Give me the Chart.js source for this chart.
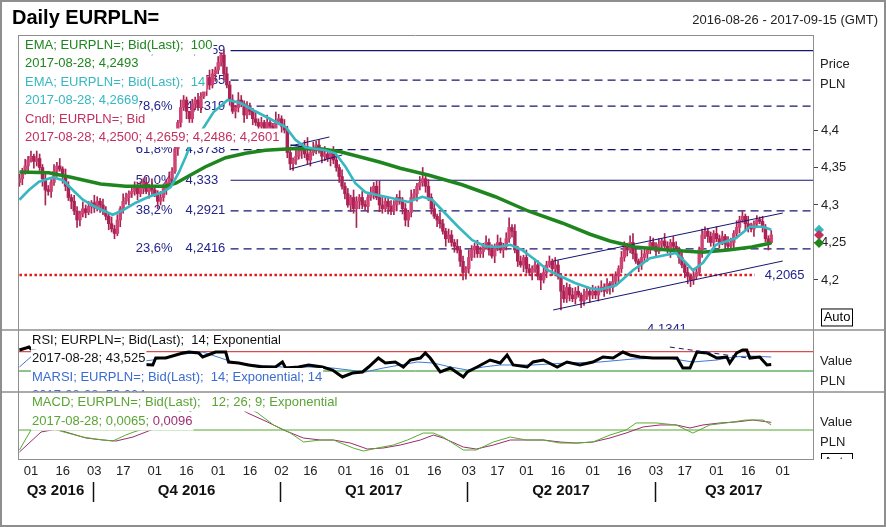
<!DOCTYPE html>
<html>
<head>
<meta charset="utf-8">
<title>Daily EURPLN=</title>
<style>
  html, body { margin: 0; padding: 0; background: #fff; }
  canvas { display: block; }
</style>
<script src="https://cdn.jsdelivr.net/npm/chart.js@4.4.1/dist/chart.umd.min.js"></script>
</head>
<body>
<canvas id="chart" width="886" height="527"></canvas>
<script>
// x = trading day number, day 0 = 2016-08-26, last candle (261) = 2017-08-28
const X_MIN = -0.5, X_MAX = 275.5;
const tickIdx = [4, 15, 26, 36, 47, 58, 69, 80, 91, 101, 113, 124, 133, 144, 156, 166, 176, 187, 199, 210, 221, 231, 242, 253, 265];
const tickLabels = ['01','16','03','17','01','16','01','16','02','16','01','16','01','16','03','17','01','16','01','16','03','17','01','16','01'];
const quarterBreaks = [25.5, 90.5, 155.5, 220.5];
const quarterNames = ['Q3 2016', 'Q4 2016', 'Q1 2017', 'Q2 2017', 'Q3 2017'];

// daily candles, EURPLN= bid
const opens = [
  4.330,4.335,4.345,4.352,4.360,4.365,4.358,4.362,4.350,4.335,
  4.320,4.318,4.330,4.345,4.352,4.348,4.338,4.325,4.310,4.305,
  4.292,4.280,4.288,4.295,4.290,4.298,4.303,4.296,4.305,4.300,
  4.292,4.285,4.275,4.268,4.262,4.280,4.295,4.305,4.310,4.315,
  4.318,4.325,4.315,4.322,4.330,4.318,4.325,4.320,4.315,4.305,
  4.310,4.322,4.330,4.335,4.345,4.375,4.410,4.430,4.440,4.425,
  4.415,4.435,4.440,4.430,4.445,4.455,4.470,4.460,4.475,4.480,
  4.490,4.500,4.475,4.460,4.440,4.425,4.430,4.440,4.435,4.420,
  4.430,4.425,4.415,4.410,4.405,4.410,4.400,4.410,4.405,4.400,
  4.412,4.415,4.405,4.400,4.370,4.355,4.360,4.365,4.372,4.378,
  4.368,4.360,4.370,4.375,4.380,4.372,4.365,4.368,4.362,4.370,
  4.360,4.350,4.338,4.325,4.315,4.300,4.310,4.295,4.305,4.310,
  4.300,4.298,4.310,4.315,4.325,4.310,4.300,4.295,4.305,4.298,
  4.292,4.300,4.310,4.305,4.295,4.280,4.290,4.310,4.315,4.325,
  4.330,4.335,4.325,4.310,4.295,4.285,4.280,4.275,4.265,4.255,
  4.260,4.250,4.245,4.240,4.225,4.210,4.215,4.230,4.240,4.245,
  4.235,4.238,4.245,4.250,4.240,4.232,4.245,4.250,4.240,4.245,
  4.255,4.270,4.265,4.240,4.225,4.220,4.230,4.215,4.210,4.215,
  4.220,4.205,4.200,4.210,4.220,4.225,4.215,4.220,4.205,4.185,
  4.175,4.190,4.180,4.175,4.185,4.180,4.172,4.178,4.185,4.180,
  4.185,4.180,4.188,4.190,4.185,4.195,4.190,4.198,4.205,4.215,
  4.230,4.245,4.240,4.250,4.235,4.225,4.220,4.230,4.235,4.240,
  4.250,4.245,4.238,4.248,4.252,4.245,4.240,4.250,4.245,4.240,
  4.230,4.220,4.210,4.205,4.200,4.205,4.210,4.240,4.260,4.265,
  4.258,4.250,4.262,4.255,4.250,4.258,4.248,4.245,4.250,4.262,
  4.270,4.280,4.285,4.275,4.270,4.268,4.275,4.280,4.278,4.270,
  4.255,4.2500
];
const highs = [
  4.341,4.349,4.361,4.365,4.372,4.368,4.372,4.368,4.354,4.343,
  4.326,4.334,4.354,4.357,4.362,4.351,4.348,4.331,4.314,4.313,
  4.298,4.292,4.304,4.300,4.305,4.306,4.313,4.311,4.309,4.308,
  4.298,4.289,4.284,4.273,4.287,4.298,4.315,4.316,4.319,4.326,
  4.331,4.329,4.331,4.335,4.337,4.328,4.335,4.326,4.319,4.318,
  4.328,4.334,4.344,4.350,4.382,4.413,4.440,4.446,4.444,4.423,
  4.441,4.444,4.449,4.450,4.462,4.473,4.480,4.481,4.484,4.498,
  4.503,4.5059,4.484,4.465,4.447,4.433,4.450,4.446,4.439,4.438,
  4.436,4.429,4.424,4.415,4.417,4.413,4.420,4.416,4.409,4.424,
  4.421,4.419,4.414,4.405,4.377,4.363,4.375,4.378,4.382,4.386,
  4.390,4.374,4.384,4.385,4.387,4.375,4.378,4.374,4.374,4.378,
  4.366,4.354,4.347,4.330,4.322,4.313,4.320,4.311,4.314,4.318,
  4.306,4.314,4.324,4.330,4.332,4.332,4.310,4.311,4.309,4.306,
  4.306,4.314,4.319,4.310,4.302,4.293,4.320,4.321,4.329,4.338,
  4.350,4.339,4.334,4.315,4.302,4.288,4.290,4.281,4.269,4.268,
  4.266,4.254,4.254,4.245,4.232,4.218,4.240,4.246,4.249,4.253,
  4.244,4.249,4.259,4.255,4.247,4.248,4.260,4.256,4.249,4.263,
  4.283,4.274,4.274,4.245,4.232,4.233,4.240,4.221,4.219,4.228,
  4.226,4.209,4.219,4.225,4.232,4.228,4.230,4.226,4.209,4.193,
  4.196,4.194,4.189,4.190,4.192,4.183,4.188,4.191,4.189,4.193,
  4.191,4.192,4.199,4.195,4.202,4.198,4.208,4.211,4.219,4.238,
  4.251,4.249,4.259,4.262,4.242,4.228,4.240,4.241,4.244,4.258,
  4.256,4.250,4.255,4.255,4.262,4.251,4.254,4.258,4.251,4.244,
  4.239,4.225,4.217,4.208,4.215,4.216,4.244,4.268,4.271,4.269,
  4.264,4.266,4.271,4.260,4.265,4.261,4.258,4.256,4.266,4.279,
  4.285,4.292,4.288,4.285,4.276,4.279,4.286,4.284,4.285,4.274,
  4.259,4.2659
];
const lows = [
  4.325,4.327,4.341,4.345,4.357,4.349,4.352,4.346,4.325,4.300,
  4.313,4.310,4.326,4.338,4.345,4.329,4.319,4.306,4.295,4.287,
  4.270,4.272,4.284,4.283,4.287,4.289,4.290,4.292,4.290,4.287,
  4.280,4.267,4.264,4.255,4.259,4.271,4.289,4.301,4.300,4.310,
  4.313,4.307,4.311,4.315,4.315,4.309,4.314,4.311,4.295,4.300,
  4.305,4.314,4.326,4.328,4.342,4.366,4.404,4.426,4.415,4.410,
  4.410,4.427,4.426,4.423,4.442,4.446,4.454,4.456,4.465,4.475,
  4.485,4.467,4.456,4.433,4.422,4.416,4.424,4.431,4.410,4.415,
  4.420,4.407,4.406,4.398,4.402,4.391,4.394,4.401,4.390,4.395,
  4.407,4.397,4.396,4.363,4.347,4.346,4.354,4.361,4.362,4.363,
  4.355,4.352,4.366,4.368,4.369,4.356,4.359,4.358,4.352,4.355,
  4.345,4.330,4.321,4.308,4.297,4.291,4.289,4.270,4.295,4.295,
  4.293,4.290,4.306,4.308,4.307,4.291,4.289,4.291,4.288,4.287,
  4.287,4.292,4.301,4.288,4.272,4.271,4.284,4.306,4.305,4.320,
  4.325,4.317,4.306,4.288,4.282,4.271,4.269,4.261,4.245,4.250,
  4.245,4.237,4.236,4.218,4.200,4.201,4.209,4.226,4.230,4.230,
  4.230,4.230,4.241,4.233,4.229,4.223,4.239,4.236,4.230,4.240,
  4.250,4.257,4.236,4.218,4.217,4.211,4.209,4.206,4.200,4.210,
  4.200,4.187,4.196,4.203,4.217,4.206,4.209,4.201,4.160,4.170,
  4.170,4.172,4.171,4.168,4.177,4.163,4.166,4.174,4.170,4.175,
  4.175,4.172,4.184,4.178,4.182,4.181,4.184,4.194,4.195,4.210,
  4.225,4.232,4.236,4.228,4.222,4.211,4.214,4.226,4.225,4.235,
  4.240,4.231,4.235,4.239,4.239,4.236,4.230,4.240,4.235,4.222,
  4.216,4.203,4.195,4.191,4.194,4.201,4.206,4.230,4.255,4.250,
  4.245,4.242,4.251,4.243,4.247,4.239,4.239,4.241,4.240,4.258,
  4.263,4.277,4.266,4.264,4.264,4.258,4.270,4.275,4.264,4.251,
  4.240,4.2486
];
const closes = [
  4.335,4.345,4.352,4.360,4.365,4.358,4.362,4.350,4.335,4.320,
  4.318,4.330,4.345,4.352,4.348,4.338,4.325,4.310,4.305,4.292,
  4.280,4.288,4.295,4.290,4.298,4.303,4.296,4.305,4.300,4.292,
  4.285,4.275,4.268,4.262,4.280,4.295,4.305,4.310,4.315,4.318,
  4.325,4.315,4.322,4.330,4.318,4.325,4.320,4.315,4.305,4.310,
  4.322,4.330,4.335,4.345,4.375,4.410,4.430,4.440,4.425,4.415,
  4.435,4.440,4.430,4.445,4.455,4.470,4.460,4.475,4.480,4.490,
  4.500,4.475,4.460,4.440,4.425,4.430,4.440,4.435,4.420,4.430,
  4.425,4.415,4.410,4.405,4.410,4.400,4.410,4.405,4.400,4.412,
  4.415,4.405,4.400,4.370,4.355,4.360,4.365,4.372,4.378,4.368,
  4.360,4.370,4.375,4.380,4.372,4.365,4.368,4.362,4.370,4.360,
  4.350,4.338,4.325,4.315,4.300,4.310,4.295,4.305,4.310,4.300,
  4.298,4.310,4.315,4.325,4.310,4.300,4.295,4.305,4.298,4.292,
  4.300,4.310,4.305,4.295,4.280,4.290,4.310,4.315,4.325,4.330,
  4.335,4.325,4.310,4.295,4.285,4.280,4.275,4.265,4.255,4.260,
  4.250,4.245,4.240,4.225,4.210,4.215,4.230,4.240,4.245,4.235,
  4.238,4.245,4.250,4.240,4.232,4.245,4.250,4.240,4.245,4.255,
  4.270,4.265,4.240,4.225,4.220,4.230,4.215,4.210,4.215,4.220,
  4.205,4.200,4.210,4.220,4.225,4.215,4.220,4.205,4.185,4.175,
  4.190,4.180,4.175,4.185,4.180,4.172,4.178,4.185,4.180,4.185,
  4.180,4.188,4.190,4.185,4.195,4.190,4.198,4.205,4.215,4.230,
  4.245,4.240,4.250,4.235,4.225,4.220,4.230,4.235,4.240,4.250,
  4.245,4.238,4.248,4.252,4.245,4.240,4.250,4.245,4.240,4.230,
  4.220,4.210,4.205,4.200,4.205,4.210,4.240,4.260,4.265,4.258,
  4.250,4.262,4.255,4.250,4.258,4.248,4.245,4.250,4.262,4.270,
  4.280,4.285,4.275,4.270,4.268,4.275,4.280,4.278,4.270,4.255,
  4.250,4.2601
];

// moving averages: [day, value]
const ema100 = [[0,4.344],[10.2,4.343],[17.9,4.337],[28.2,4.328],[36.9,4.325],[50.8,4.325],[54.3,4.329],[59.4,4.340],[64.6,4.351],[71.6,4.363],[78.5,4.369],[85.4,4.373],[94.1,4.375],[104.5,4.375],[111.4,4.371],[118.4,4.364],[125.3,4.357],[132.2,4.349],[141.9,4.340],[153.7,4.327],[165.2,4.311],[176.6,4.292],[188.4,4.276],[198.1,4.261],[205,4.252],[213.7,4.244],[225.3,4.240],[237,4.237],[246,4.240],[254.3,4.244],[261,4.2493]];
const ema14 = [[0,4.307],[3.3,4.320],[6.8,4.331],[11.6,4.337],[15.1,4.333],[18.5,4.320],[22,4.307],[26.5,4.297],[32.4,4.287],[35.9,4.293],[40.4,4.303],[44.9,4.311],[49.7,4.317],[52.5,4.324],[55.3,4.343],[57.7,4.364],[60.1,4.387],[63.6,4.401],[67.4,4.424],[72.3,4.440],[76.8,4.436],[81.9,4.425],[87.9,4.413],[92.4,4.404],[95.8,4.387],[99.3,4.377],[106.2,4.373],[109.7,4.369],[113.2,4.351],[116.6,4.329],[120.1,4.317],[124.6,4.313],[129.5,4.309],[135,4.304],[139.9,4.311],[143.3,4.307],[147.8,4.289],[152.3,4.271],[157.2,4.253],[161.7,4.245],[166.2,4.244],[170.4,4.247],[174.5,4.240],[179,4.227],[183.5,4.213],[188.4,4.204],[192.9,4.196],[198.1,4.189],[201.6,4.187],[207.1,4.193],[213,4.213],[218.9,4.229],[227.9,4.236],[231.4,4.223],[233.8,4.213],[237.3,4.223],[241.8,4.247],[248.8,4.256],[253.6,4.271],[258.1,4.271],[261,4.2669]];

// Fibonacci retracement
const fibStart = 73.3;
const fibPct = ['100,0%', '88,6%', '78,6%', '61,8%', '50,0%', '38,2%', '23,6%'];
const fibLevels = [4.5059, 4.4665, 4.4319, 4.3738, 4.333, 4.2921, 4.2416];
const fibSolid = [true, false, false, false, true, false, false];
const support = [0, 255.3, 4.2065];
const lowMark = [224.8, 4.1341];
// hand-drawn trend lines [x1, y1, x2, y2]
const trendLines = [[94.1,4.3787,107.6,4.3907],[94.1,4.3800,112.1,4.3707],[94.1,4.3480,112.1,4.3667],[185.3,4.2253,265,4.2893],[185.3,4.1600,265,4.2253]];

// RSI(14) and its moving average
const rsi = [[0,73.5],[2.3,77.7],[3.3,79.7],[4,75.6],[12,55],[25,35],[38,45],[46.3,42.5],[47.3,56.9],[50.8,56.9],[56.7,67.3],[58.8,69.4],[62.2,67.3],[63.6,59.0],[68.1,69.4],[71.6,69.4],[72.6,48.7],[76.1,46.6],[79.5,42.5],[84.4,38.3],[88.9,38.3],[91.3,48.7],[92.4,36.2],[96.9,38.3],[100.4,42.5],[105.2,38.3],[108.7,32.1],[112.1,17.6],[115.6,25.9],[119.1,28.0],[121.2,38.3],[124.6,56.9],[127,46.6],[130.5,48.7],[133.3,38.3],[135.7,52.8],[139.2,56.9],[140.9,67.3],[142.6,56.9],[146.1,28.0],[149.6,36.2],[154.1,17.6],[155.5,28.0],[158.9,38.3],[163.4,52.8],[166.9,46.6],[169.3,63.2],[171.4,42.5],[176.3,38.3],[178.3,48.7],[181.8,52.8],[186.7,38.3],[190.1,48.7],[194.6,42.5],[199.1,48.7],[202.6,59.0],[206.1,56.9],[209.5,69.4],[211.9,63.2],[215.4,59.0],[219.9,56.9],[224.8,56.9],[228.3,56.9],[230.3,36.2],[232.8,36.2],[235.2,69.4],[238.7,67.3],[242.1,56.9],[245.6,59.0],[246.6,46.6],[249,67.3],[251.1,73.5],[252.5,73.5],[253.6,56.9],[257,59.0],[259.5,42.5],[261,43.525]];
const marsi = [[0,38.3],[4.7,63.2],[20,55],[35,45],[46.3,52.8],[54.2,63.2],[63.6,69.4],[74,48.7],[81.9,42.5],[91.3,38.3],[100.4,38.3],[108.7,36.2],[120.1,28.0],[126.3,36.2],[132.2,42.5],[138.1,48.7],[143.7,46.6],[149.6,38.3],[155.5,32.1],[161,38.3],[166.9,42.5],[178.3,42.5],[190.1,46.6],[201.6,48.7],[213,54.9],[224.8,56.9],[233.8,48.7],[242.1,52.8],[247.7,59.0],[253.6,61.1],[261,59.034]];
const rsiBands = [70, 30];
const rsiTrend = [225.8, 79.7, 252.9, 56.9];

// MACD(12,26,9)
const macd = [[0,-0.025],[4,0],[9.2,0.004],[15.4,-0.0025],[22,-0.0088],[26.5,-0.0113],[32.4,-0.0138],[36.9,-0.0063],[39.7,-0.0025],[45.6,0.004],[54.2,0.02],[62.9,0.04],[71.6,0.042],[82.7,0.0213],[88.2,0.0063],[94.1,-0.0038],[98.6,-0.015],[104.5,-0.0125],[109,-0.0125],[115.9,-0.0225],[119.4,-0.0263],[124.3,-0.0225],[129.8,-0.0188],[134.7,-0.0125],[140.2,-0.0038],[143.7,-0.0038],[147.1,-0.0088],[154.1,-0.025],[158.6,-0.025],[164.5,-0.015],[170.4,-0.0088],[175.9,-0.0125],[181.8,-0.0125],[187.7,-0.0163],[193.3,-0.0163],[199.1,-0.015],[205,-0.0063],[210.6,0],[214.1,0.0088],[221,0.0088],[228,0.0063],[233.8,-0.0038],[239.7,0.0063],[245.3,0.0088],[252.2,0.0125],[258.1,0.0125],[261,0.0065]];
const signal = [[0,-0.0275],[7.5,-0.0025],[12.7,0.001],[16.1,-0.0025],[23.1,-0.01],[28.9,-0.0125],[33.5,-0.0138],[39.4,-0.0088],[43.9,-0.0025],[52.5,0.01],[62.9,0.03],[71.6,0.038],[79.2,0.0213],[86.1,0.01],[91.7,0],[98.6,-0.01],[104.5,-0.0125],[109,-0.0125],[114.9,-0.0163],[120.8,-0.0238],[126.3,-0.0225],[132.2,-0.0188],[139.2,-0.0125],[143.7,-0.0063],[147.1,-0.01],[154.1,-0.0213],[158.6,-0.0238],[164.5,-0.0188],[170.4,-0.0125],[181.8,-0.0125],[187.7,-0.015],[193.3,-0.0163],[199.1,-0.015],[205,-0.01],[210.6,-0.0038],[216.5,0.0038],[222.4,0.0063],[228,0.0063],[232.8,0.0025],[237.3,0.0063],[243.2,0.0088],[248.7,0.01],[254.6,0.0125],[261,0.0096]];

const priceTicks = [4.2, 4.25, 4.3, 4.35, 4.4];

const FONT = '"Liberation Sans", Arial, sans-serif';
const FRAME = '#8e8e8e';
const NAVY = '#161670';
const C_EMA100 = '#1f861f';
const C_EMA14 = '#36b8c0';
const C_CNDL = '#c2305e';

Chart.defaults.font.family = FONT;
Chart.defaults.font.size = 13;
Chart.defaults.color = '#222';

const pts = arr => arr.map(p => ({x: p[0], y: p[1]}));
const comma = v => String(v).replace('.', ',');
const fix = (v, n) => v.toFixed(n).replace('.', ',');
const last = arr => arr[arr.length - 1];
const lastDay = '2017-08-28';

function line(data, color, width, axis, order, dash) {
  return {type: 'line', data: data, borderColor: color, borderWidth: width, borderDash: dash || [],
    pointRadius: 0, tension: 0, fill: false, yAxisID: axis, order: order};
}

var datasets = [];
fibLevels.forEach(function (v, k) {
  datasets.push(line([{x: fibStart, y: v}, {x: X_MAX, y: v}], NAVY, 1.2, 'yPrice', 30, fibSolid[k] ? [] : [8, 5]));
});
datasets.push(line([{x: support[0], y: support[2]}, {x: support[1], y: support[2]}], '#e01818', 2.5, 'yPrice', 29, [2.5, 2.5]));

var n = closes.length;
var idx = closes.map(function (c, i) { return i; });
datasets.push({type: 'bar', data: idx.map(i => ({x: i, y: [lows[i], highs[i]]})), backgroundColor: '#a82452',
  barThickness: 1, grouped: false, yAxisID: 'yPrice', order: 20});
datasets.push({type: 'bar', data: idx.map(i => ({x: i, y: [opens[i], closes[i]]})),
  backgroundColor: idx.map(i => closes[i] >= opens[i] ? '#cf4474' : '#ad2255'),
  borderColor: '#a82250', borderWidth: 0, barThickness: 2.8, minBarLength: 2, grouped: false, yAxisID: 'yPrice', order: 19});

trendLines.forEach(function (t, k) {
  datasets.push(line([{x: t[0], y: t[1]}, {x: t[2], y: t[3]}], NAVY, k === 1 ? 1.6 : 1, 'yPrice', 6));
});
datasets.push(line(pts(ema100), C_EMA100, 3.5, 'yPrice', 4));
datasets.push(line(pts(ema14), C_EMA14, 2.6, 'yPrice', 3));

datasets.push(line([{x: X_MIN, y: rsiBands[0]}, {x: X_MAX, y: rsiBands[0]}], '#cc2222', 1, 'yRsi', 30));
datasets.push(line([{x: X_MIN, y: rsiBands[1]}, {x: X_MAX, y: rsiBands[1]}], '#1c8a1c', 1, 'yRsi', 30));
datasets.push(line(pts(marsi), '#3f7bd6', 1, 'yRsi', 5));
datasets.push(line(pts(rsi), '#000', 3, 'yRsi', 4));
datasets.push(line([{x: rsiTrend[0], y: rsiTrend[1]}, {x: rsiTrend[2], y: rsiTrend[3]}], NAVY, 1, 'yRsi', 3, [5, 4]));

datasets.push(line([{x: X_MIN, y: 0}, {x: X_MAX, y: 0}], '#55a82a', 1, 'yMacd', 30));
datasets.push(line(pts(signal), '#9b2c70', 1, 'yMacd', 5));
datasets.push(line(pts(macd), '#5aad30', 1, 'yMacd', 4));

function rowText(ctx, parts, x, cy) {
  var w = 0;
  parts.forEach(p => { w += ctx.measureText(p[0]).width; });
  ctx.fillStyle = '#fff';
  ctx.fillRect(x - 1, cy - 9, w + 2, 18.5);
  var cx = x;
  parts.forEach(p => { ctx.fillStyle = p[1]; ctx.fillText(p[0], cx, cy); cx += ctx.measureText(p[0]).width; });
}

function diamond(ctx, x, y, r, color) {
  ctx.beginPath();
  ctx.moveTo(x, y - r); ctx.lineTo(x + r, y); ctx.lineTo(x, y + r); ctx.lineTo(x - r, y); ctx.closePath();
  ctx.fillStyle = color; ctx.fill();
}

const panels = {
  id: 'panels',
  beforeDraw(chart) {
    const ctx = chart.ctx;
    ctx.save(); ctx.fillStyle = '#fff'; ctx.fillRect(0, 0, chart.width, chart.height); ctx.restore();
  },
  beforeDatasetsDraw(chart) {
    const {ctx, chartArea: a, scales} = chart;
    const x = scales.x, y = scales.yPrice;
    ctx.save();
    ctx.beginPath(); ctx.rect(a.left, y.top, a.right - a.left, y.bottom - y.top); ctx.clip();
    ctx.font = '13px ' + FONT;
    ctx.fillStyle = '#24248c';
    ctx.textBaseline = 'middle';
    const x0 = x.getPixelForValue(fibStart);
    fibLevels.forEach(function (v, k) {
      const py = y.getPixelForValue(v);
      ctx.textAlign = 'right'; ctx.fillText(fibPct[k], x0 - 58, py);
      ctx.textAlign = 'left'; ctx.fillText(comma(v), x0 - 45, py);
    });
    ctx.textAlign = 'left';
    ctx.fillText(comma(support[2]), x.getPixelForValue(support[1]) + 10, y.getPixelForValue(support[2]));
    ctx.textAlign = 'center';
    ctx.fillText(comma(lowMark[1]), x.getPixelForValue(lowMark[0]), y.getPixelForValue(lowMark[1]));
    ctx.restore();
  },
  afterDatasetsDraw(chart) {
    const {ctx, chartArea: a, scales} = chart;
    const yp = scales.yPrice, yr = scales.yRsi, ym = scales.yMacd;
    ctx.save();
    ctx.font = '13px ' + FONT;
    ctx.textBaseline = 'middle';
    ctx.textAlign = 'left';
    const c = n - 1;
    const priceRows = [
      [['EMA; EURPLN=; Bid(Last);  100', C_EMA100]],
      [[lastDay + '; ' + fix(last(ema100)[1], 4), C_EMA100]],
      [['EMA; EURPLN=; Bid(Last);  14', C_EMA14]],
      [[lastDay + '; ' + fix(last(ema14)[1], 4), C_EMA14]],
      [['Cndl; EURPLN=; Bid', C_CNDL]],
      [[lastDay + '; ' + [opens[c], highs[c], lows[c], closes[c]].map(v => fix(v, 4)).join('; '), C_CNDL]]
    ];
    priceRows.forEach((r, k) => rowText(ctx, r, a.left + 7, yp.top + 10 + k * 18.5));

    ctx.save();
    ctx.beginPath(); ctx.rect(0, yr.top, chart.width, yr.bottom - yr.top); ctx.clip();
    const rsiRows = [
      [['RSI; EURPLN=; Bid(Last);  14; Exponential', '#111']],
      [[lastDay + '; ' + fix(last(rsi)[1], 3), '#111']],
      [['MARSI; EURPLN=; Bid(Last);  14; Exponential; 14', '#3b6cd0']],
      [[lastDay + '; ' + fix(last(marsi)[1], 3), '#3b6cd0']]
    ];
    rsiRows.forEach((r, k) => rowText(ctx, r, a.left + 14, yr.top + 10 + k * 18.5));
    ctx.restore();

    const macdRows = [
      [['MACD; EURPLN=; Bid(Last);   12; 26; 9; Exponential', '#5aa532']],
      [[lastDay + '; ' + fix(last(macd)[1], 4) + '; ', '#5aa532'], [fix(last(signal)[1], 4), '#9e2f72']]
    ];
    macdRows.forEach((r, k) => rowText(ctx, r, a.left + 14, ym.top + 10 + k * 19));
    ctx.restore();
  },
  afterDraw(chart) {
    const {ctx, chartArea: a, scales} = chart;
    const W = chart.width, H = chart.height;
    const x = scales.x, yp = scales.yPrice, yr = scales.yRsi, ym = scales.yMacd;
    ctx.save();
    ctx.strokeStyle = FRAME; ctx.lineWidth = 1;
    ctx.beginPath();
    ctx.moveTo(a.left, a.top + 0.5); ctx.lineTo(a.right, a.top + 0.5);
    ctx.moveTo(a.left + 0.5, a.top); ctx.lineTo(a.left + 0.5, a.bottom);
    ctx.stroke();
    ctx.lineWidth = 1.5;
    ctx.beginPath();
    ctx.moveTo(0, yr.top); ctx.lineTo(W, yr.top);
    ctx.moveTo(0, ym.top); ctx.lineTo(W, ym.top);
    ctx.stroke();
    ctx.lineWidth = 2;
    ctx.strokeRect(1, 1, W - 2, H - 2);

    // titles
    ctx.fillStyle = '#000';
    ctx.textBaseline = 'middle';
    ctx.font = 'bold 20px ' + FONT;
    ctx.textAlign = 'left';
    ctx.fillText('Daily EURPLN=', 12, 18);
    ctx.font = '13px ' + FONT;
    ctx.fillStyle = '#222';
    ctx.textAlign = 'right';
    ctx.fillText('2016-08-26 - 2017-09-15 (GMT)', W - 8, 20);

    // right axis captions
    ctx.textAlign = 'left';
    const rx = a.right + 7;
    ctx.fillText('Price', rx, yp.top + 29);
    ctx.fillText('PLN', rx, yp.top + 49);
    ctx.fillText('Value', rx, yr.top + 31);
    ctx.fillText('PLN', rx, yr.top + 51);
    ctx.fillText('Value', rx, ym.top + 30);
    ctx.fillText('PLN', rx, ym.top + 50);

    // Auto boxes
    const ay = yp.getPixelForValue(4.15);
    ctx.strokeStyle = '#000'; ctx.lineWidth = 1;
    ctx.strokeRect(a.right + 8.5, ay - 8.5, 31, 17);
    ctx.textAlign = 'center';
    ctx.fillStyle = '#000';
    ctx.fillText('Auto', a.right + 24, ay);
    ctx.save();
    ctx.beginPath(); ctx.rect(a.right + 1, ym.top, W - a.right, ym.bottom - ym.top); ctx.clip();
    ctx.strokeRect(a.right + 8.5, ym.bottom - 5.5, 31, 17);
    ctx.fillText('Auto', a.right + 24, ym.bottom + 3);
    ctx.restore();

    // last value markers
    const dx = a.right + 6;
    diamond(ctx, dx, yp.getPixelForValue(last(ema14)[1]), 5, C_EMA14);
    diamond(ctx, dx, yp.getPixelForValue(closes[n - 1]), 5, C_CNDL);
    diamond(ctx, dx, yp.getPixelForValue(last(ema100)[1]), 5, C_EMA100);

    // quarters
    ctx.strokeStyle = '#111'; ctx.lineWidth = 1.5;
    quarterBreaks.forEach(q => {
      const px = Math.round(x.getPixelForValue(q)) + 0.5;
      ctx.beginPath(); ctx.moveTo(px, x.top + 23); ctx.lineTo(px, x.top + 43); ctx.stroke();
    });
    const bounds = [X_MIN].concat(quarterBreaks, [X_MAX]);
    ctx.font = 'bold 15px ' + FONT;
    ctx.fillStyle = '#111';
    ctx.textAlign = 'center';
    quarterNames.forEach((q, k) => {
      ctx.fillText(q, (x.getPixelForValue(bounds[k]) + x.getPixelForValue(bounds[k + 1])) / 2, x.top + 32);
    });
    ctx.restore();
  }
};

new Chart(document.getElementById('chart'), {
  type: 'line',
  data: {datasets: datasets},
  options: {
    responsive: false,
    animation: false,
    devicePixelRatio: 1,
    layout: {padding: {left: 18, top: 35, right: 0, bottom: 0}},
    plugins: {legend: {display: false}, tooltip: {enabled: false}},
    scales: {
      x: {
        type: 'linear', min: X_MIN, max: X_MAX, offset: false,
        grid: {display: false, drawTicks: false},
        border: {color: FRAME},
        afterBuildTicks: s => { s.ticks = tickIdx.map(v => ({value: v})); },
        afterFit: s => { s.height = 68; },
        ticks: {autoSkip: false, maxRotation: 0, padding: 5, color: '#222', callback: (v, i) => tickLabels[i]}
      },
      yPrice: {
        type: 'linear', position: 'right', stack: 'panes', stackWeight: 295,
        min: 4.1333, max: 4.5267,
        afterFit: s => { s.width = 73; },
        grid: {drawOnChartArea: false, tickLength: 5, tickColor: '#444'},
        border: {color: FRAME},
        ticks: {
          stepSize: 0.05, padding: 3, color: '#222',
          callback: v => {
            const r = Math.round(v * 100) / 100;
            if (Math.abs(r - v) > 1e-6) return null;
            if (priceTicks.includes(r)) return comma(r);
            if (r === 4.15) return ' ';
            return null;
          }
        }
      },
      yRsi: {
        type: 'linear', position: 'right', stack: 'panes', stackWeight: 62,
        min: -13.5, max: 115,
        afterFit: s => { s.width = 73; },
        grid: {display: false}, border: {color: FRAME}, ticks: {display: false}
      },
      yMacd: {
        type: 'linear', position: 'right', stack: 'panes', stackWeight: 67,
        min: -0.03625, max: 0.0475,
        afterFit: s => { s.width = 73; },
        grid: {display: false}, border: {color: FRAME}, ticks: {display: false}
      }
    }
  },
  plugins: [panels]
});
</script>
</body>
</html>
